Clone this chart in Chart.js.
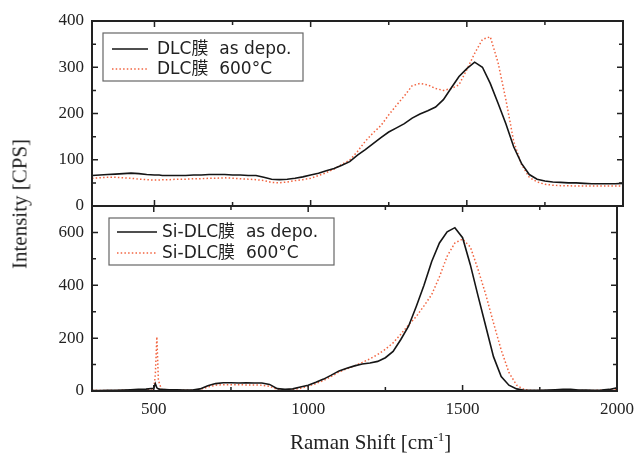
<!DOCTYPE html>
<html>
<head>
<meta charset="utf-8">
<script src="https://cdn.jsdelivr.net/npm/chart.js@4.4.1/dist/chart.umd.min.js"></script>
<style>
  body { margin: 0; background: #fff; }
  #wrap { position: relative; width: 642px; height: 455px; overflow: hidden; }
  canvas { position: absolute; left: 0; top: 0; }
  .axisTitle {
    position: absolute;
    font-family: "Liberation Serif", "Times New Roman", serif;
    font-size: 21px;
    color: #222;
    white-space: nowrap;
  }
  .axisTitle sup { font-size: 13px; }
  #xTitle { left: 290px; top: 429px; }
  #yTitle { left: 20px; top: 204px; transform: translate(-50%, -50%) rotate(-90deg); }
</style>
</head>
<body>
<div id="wrap">
  <canvas id="topChart" width="642" height="230"></canvas>
  <canvas id="bottomChart" width="642" height="455"></canvas>
  <div id="xTitle" class="axisTitle">Raman Shift [cm<sup>-1</sup>]</div>
  <div id="yTitle" class="axisTitle">Intensity [CPS]</div>
</div>
<script>
// Raman shift (cm-1) sampled values
const ramanShift = [
  300, 325, 350, 375, 400, 425, 450, 475, 500, 505, 510, 515,
  525, 550, 575, 600, 625, 650, 675, 700, 725, 750, 775, 800,
  825, 850, 875, 900, 925, 950, 975, 1000, 1025, 1050, 1075, 1100,
  1125, 1150, 1175, 1200, 1225, 1250, 1275, 1300, 1325, 1350, 1375, 1400,
  1425, 1450, 1475, 1500, 1525, 1550, 1575, 1600, 1625, 1650, 1675, 1700,
  1725, 1750, 1775, 1800, 1825, 1850, 1875, 1900, 1925, 1950, 1975, 2000
];

// DLC film, as deposited
const dlcAsDepo = [
  66, 67, 68, 69, 70, 71, 70, 68, 67, 67, 67, 67,
  66, 66, 66, 66, 67, 67, 68, 68, 68, 67, 67, 66,
  66, 62, 58, 57, 58, 60, 63, 67, 71, 76, 81, 88,
  96, 110, 122, 135, 148, 160, 169, 178, 190, 199, 206, 214,
  230, 255, 280, 297, 311, 300, 265, 222, 178, 128, 92, 68,
  58, 54, 52, 51, 50, 50, 49, 48, 48, 48, 48, 49
];

// DLC film, 600 C
const dlc600 = [
  60, 61, 62, 62, 61, 60, 58, 57, 56, 56, 56, 56,
  57, 57, 58, 58, 59, 59, 60, 60, 61, 60, 59, 58,
  57, 55, 51, 50, 52, 55, 57, 60, 66, 72, 80, 90,
  99, 118, 140, 158, 174, 197, 218, 238, 260, 265, 262, 254,
  250, 254, 262, 295, 330, 360, 366, 310, 230, 140, 90, 62,
  52, 47, 45, 44, 44, 43, 43, 43, 43, 43, 43, 43
];

// Si-DLC film, as deposited
const siAsDepo = [
  2, 2, 3, 3, 4, 5, 6, 7, 10, 28, 12, 8,
  6, 5, 5, 4, 4, 8, 20, 28, 31, 31, 30, 31,
  30, 30, 25, 9, 6, 8, 15, 22, 33, 45, 60, 76,
  86, 95, 102, 106, 112, 126, 150, 195, 245, 320, 400, 490,
  560, 602, 618, 580, 478, 360, 245, 130, 55, 22, 8, 3,
  3, 3, 4, 5, 6, 6, 4, 4, 3, 4, 6, 12
];

// Si-DLC film, 600 C
const si600 = [
  3, 2, 2, 2, 3, 3, 4, 5, 8, 60, 205, 40,
  6, 4, 3, 3, 3, 6, 15, 22, 24, 24, 24, 23,
  23, 22, 18, 6, 4, 6, 10, 18, 28, 40, 55, 72,
  84, 95, 108, 122, 138, 158, 182, 215, 250, 282, 322, 365,
  432, 510, 560, 575, 545, 460, 365, 258, 155, 70, 22, 5,
  2, 2, 2, 2, 3, 3, 2, 2, 2, 3, 4, 6
];

// tick positions (labelled ones are the multiples of the major step)
const xTicks = [500, 750, 1000, 1250, 1500, 1750, 2000];
const yTicksTop = [0, 50, 100, 150, 200, 250, 300, 350, 400];
const yTicksBottom = [0, 100, 200, 300, 400, 500, 600, 700];

const labelsTop = ["DLC膜  as depo.", "DLC膜  600°C"];
const labelsBottom = ["Si-DLC膜  as depo.", "Si-DLC膜  600°C"];

const black = "#151515";
const red = "#f26440";
const tickFont = { family: "'Liberation Serif', 'Times New Roman', serif", size: 17 };

function points(ys) {
  return ramanShift.map((x, i) => ({ x: x, y: ys[i] }));
}

// frame + inward major/minor ticks on all four sides
const framePlugin = {
  id: "frameTicks",
  afterDraw(chart, args, opts) {
    const ctx = chart.ctx;
    const a = chart.chartArea;
    ctx.save();
    ctx.strokeStyle = "#222";
    ctx.lineWidth = 1.5;
    ctx.beginPath();
    const xs = chart.scales.x;
    xs.ticks.forEach((t) => {
      if (t.value <= xs.min || t.value >= xs.max) return;
      const len = t.value % opts.xMajor === 0 ? 6 : 4;
      const px = xs.getPixelForValue(t.value);
      ctx.moveTo(px, a.bottom);
      ctx.lineTo(px, a.bottom - len);
      ctx.moveTo(px, a.top);
      ctx.lineTo(px, a.top + len);
    });
    const ys = chart.scales.y;
    ys.ticks.forEach((t) => {
      if (t.value <= ys.min || t.value >= ys.max) return;
      const len = t.value % opts.yMajor === 0 ? 6 : 4;
      const py = ys.getPixelForValue(t.value);
      ctx.moveTo(a.left, py);
      ctx.lineTo(a.left + len, py);
      ctx.moveTo(a.right, py);
      ctx.lineTo(a.right - len, py);
    });
    ctx.stroke();
    ctx.lineWidth = 2;
    ctx.strokeRect(a.left, a.top, a.right - a.left, a.bottom - a.top);
    ctx.restore();
  }
};

// boxed legend inside the plot
const boxLegendPlugin = {
  id: "boxLegend",
  afterDraw(chart, args, opts) {
    const ctx = chart.ctx;
    ctx.save();
    ctx.fillStyle = "#fff";
    ctx.fillRect(opts.left, opts.top, opts.width, opts.height);
    ctx.strokeStyle = "#666";
    ctx.lineWidth = 1.2;
    ctx.strokeRect(opts.left, opts.top, opts.width, opts.height);
    ctx.font = "17px 'DejaVu Sans', 'Noto Sans CJK JP', sans-serif";
    ctx.textBaseline = "middle";
    chart.data.datasets.forEach((ds, i) => {
      const y = opts.top + opts.firstRow + i * opts.rowGap;
      ctx.strokeStyle = ds.borderColor;
      ctx.lineWidth = ds.borderWidth;
      ctx.setLineDash(ds.borderDash || []);
      ctx.beginPath();
      ctx.moveTo(opts.left + opts.lineStart, y);
      ctx.lineTo(opts.left + opts.lineStart + opts.lineLen, y);
      ctx.stroke();
      ctx.setLineDash([]);
      ctx.fillStyle = "#222";
      ctx.fillText(ds.label, opts.left + opts.textStart, y + 1);
    });
    ctx.restore();
  }
};

function makeChart(id, series, labels, yMax, yTicks, yMajor, showX, layoutPad, xHeight, legendBox) {
  return new Chart(document.getElementById(id), {
    type: "line",
    data: {
      datasets: [
        {
          label: labels[0],
          data: points(series[0]),
          borderColor: black,
          borderWidth: 1.6,
          pointRadius: 0,
          tension: 0
        },
        {
          label: labels[1],
          data: points(series[1]),
          borderColor: red,
          borderWidth: 1.5,
          borderDash: [1.5, 2.2],
          pointRadius: 0,
          tension: 0
        }
      ]
    },
    options: {
      responsive: false,
      animation: false,
      devicePixelRatio: 1,
      layout: { padding: layoutPad },
      scales: {
        x: {
          type: "linear",
          min: 300,
          max: 2000,
          grid: { display: false, drawTicks: false },
          border: { display: false },
          ticks: {
            display: showX,
            autoSkip: false,
            maxRotation: 0,
            padding: 8,
            color: "#222",
            font: tickFont,
            callback: (v) => (v % 500 === 0 ? String(v) : "")
          },
          afterBuildTicks: (s) => { s.ticks = xTicks.map((v) => ({ value: v })); },
          afterFit: (s) => { s.height = xHeight; }
        },
        y: {
          min: 0,
          max: yMax,
          grid: { display: false, drawTicks: false },
          border: { display: false },
          ticks: {
            autoSkip: false,
            padding: 8,
            color: "#222",
            font: tickFont,
            callback: (v) => (v % yMajor === 0 ? String(v) : "")
          },
          afterBuildTicks: (s) => { s.ticks = yTicks.map((v) => ({ value: v })); },
          afterFit: (s) => { s.width = 92; }
        }
      },
      plugins: {
        legend: { display: false },
        tooltip: { enabled: false },
        frameTicks: { xMajor: 500, yMajor: yMajor },
        boxLegend: legendBox
      }
    },
    plugins: [framePlugin, boxLegendPlugin]
  });
}

makeChart("topChart", [dlcAsDepo, dlc600], labelsTop, 400, yTicksTop, 100, false,
  { top: 21, right: 19, bottom: 24, left: 0 }, 0,
  { left: 103, top: 33, width: 200, height: 48, firstRow: 16, rowGap: 20, lineStart: 9, lineLen: 36, textStart: 54 });

makeChart("bottomChart", [siAsDepo, si600], labelsBottom, 700, yTicksBottom, 200, true,
  { top: 206, right: 19, bottom: 0, left: 0 }, 64,
  { left: 109, top: 218, width: 225, height: 47, firstRow: 14, rowGap: 21, lineStart: 8, lineLen: 40, textStart: 53 });
</script>
</body>
</html>
